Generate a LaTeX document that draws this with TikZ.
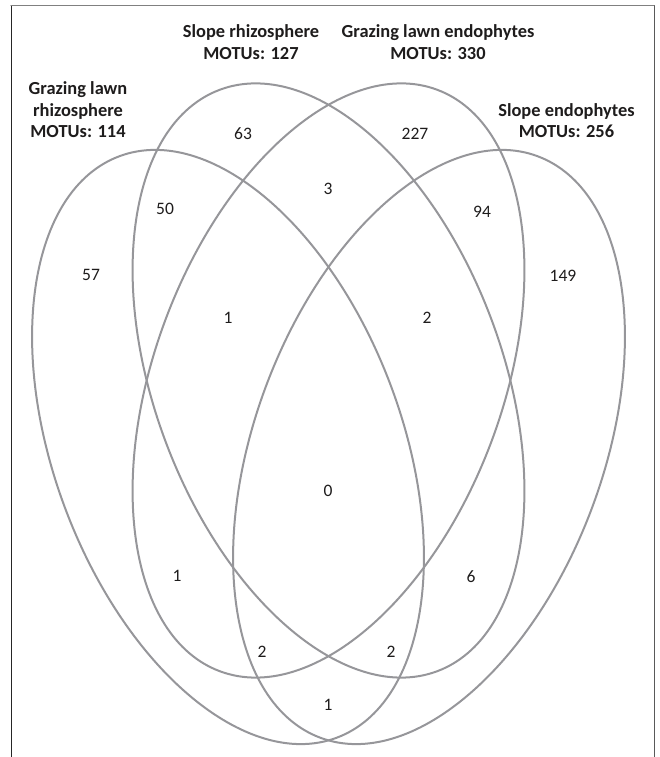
\documentclass[tikz,border=0pt]{standalone}
\usepackage{fontspec}
\setmainfont{Carlito}
\usepackage{tikz}
\definecolor{venngray}{RGB}{150,150,154}
\definecolor{textgray}{RGB}{30,28,28}
\newcommand{\SetFont}{\fontsize{18.4}{21.5}\selectfont\bfseries}
\newcommand{\CountFont}{\fontsize{17.5}{21}\selectfont}
\newcommand{\MajorA}{310.4}
\newcommand{\MinorB}{174}

\begin{document}
\begin{tikzpicture}[line cap=round,line join=round,x=1pt,y=1pt,
  venn/.style={draw=venngray,line width=2pt},
  setlabel/.style={align=center,inner sep=0pt,text=textgray,font=\SetFont},
  count/.style={inner sep=0pt,text=textgray,font=\CountFont}]
  \useasboundingbox (0,0) rectangle (660,757);
  % frame
  \draw [black!85,line width=1pt] (11.5,0) -- (11.5,751.3);
  \draw [gray,line width=1.3pt] (11,751.3) -- (654,751.3);
  \draw [black!65,line width=1pt] (654,751.3) -- (654,0);
  % the four ellipses
  \draw [venn,rotate around={110.5:(228,310)}] (228,310) ellipse [x radius=\MajorA,y radius=\MinorB];
  \draw [venn,rotate around={110.5:(328.5,376.5)}] (328.5,376.5) ellipse [x radius=\MajorA,y radius=\MinorB];
  \draw [venn,rotate around={69.5:(328.5,376.5)}] (328.5,376.5) ellipse [x radius=\MajorA,y radius=\MinorB];
  \draw [venn,rotate around={69.5:(429,310)}] (429,310) ellipse [x radius=\MajorA,y radius=\MinorB];
  % set names
  \node [setlabel] (grazRhizo) at (78,647) {Grazing lawn\\rhizosphere\\MOTUs: 114};
  \node [setlabel] (slopeRhizo) at (251,715) {Slope rhizosphere\\MOTUs: 127};
  \node [setlabel] (grazEndo) at (438,715) {Grazing lawn endophytes\\MOTUs: 330};
  \node [setlabel] (slopeEndo) at (566.5,636.3) {Slope endophytes\\MOTUs: 256};
  % counts
  \node [count] (nA) at (91,482) {57};
  \node [count] (nB) at (243,623) {63};
  \node [count] (nC) at (415,623) {227};
  \node [count] (nD) at (563,481) {149};
  \node [count] (nAB) at (165,548) {50};
  \node [count] (nBC) at (328,568) {3};
  \node [count] (nCD) at (482,545) {94};
  \node [count] (nABC) at (228,439) {1};
  \node [count] (nBCD) at (427,439) {2};
  \node [count] (nABCD) at (328,266) {0};
  \node [count] (nAC) at (177,181) {1};
  \node [count] (nBD) at (471,180) {6};
  \node [count] (nACD) at (262,105) {2};
  \node [count] (nABD) at (391,105) {2};
  \node [count] (nAD) at (328,52) {1};
\end{tikzpicture}
\end{document}
